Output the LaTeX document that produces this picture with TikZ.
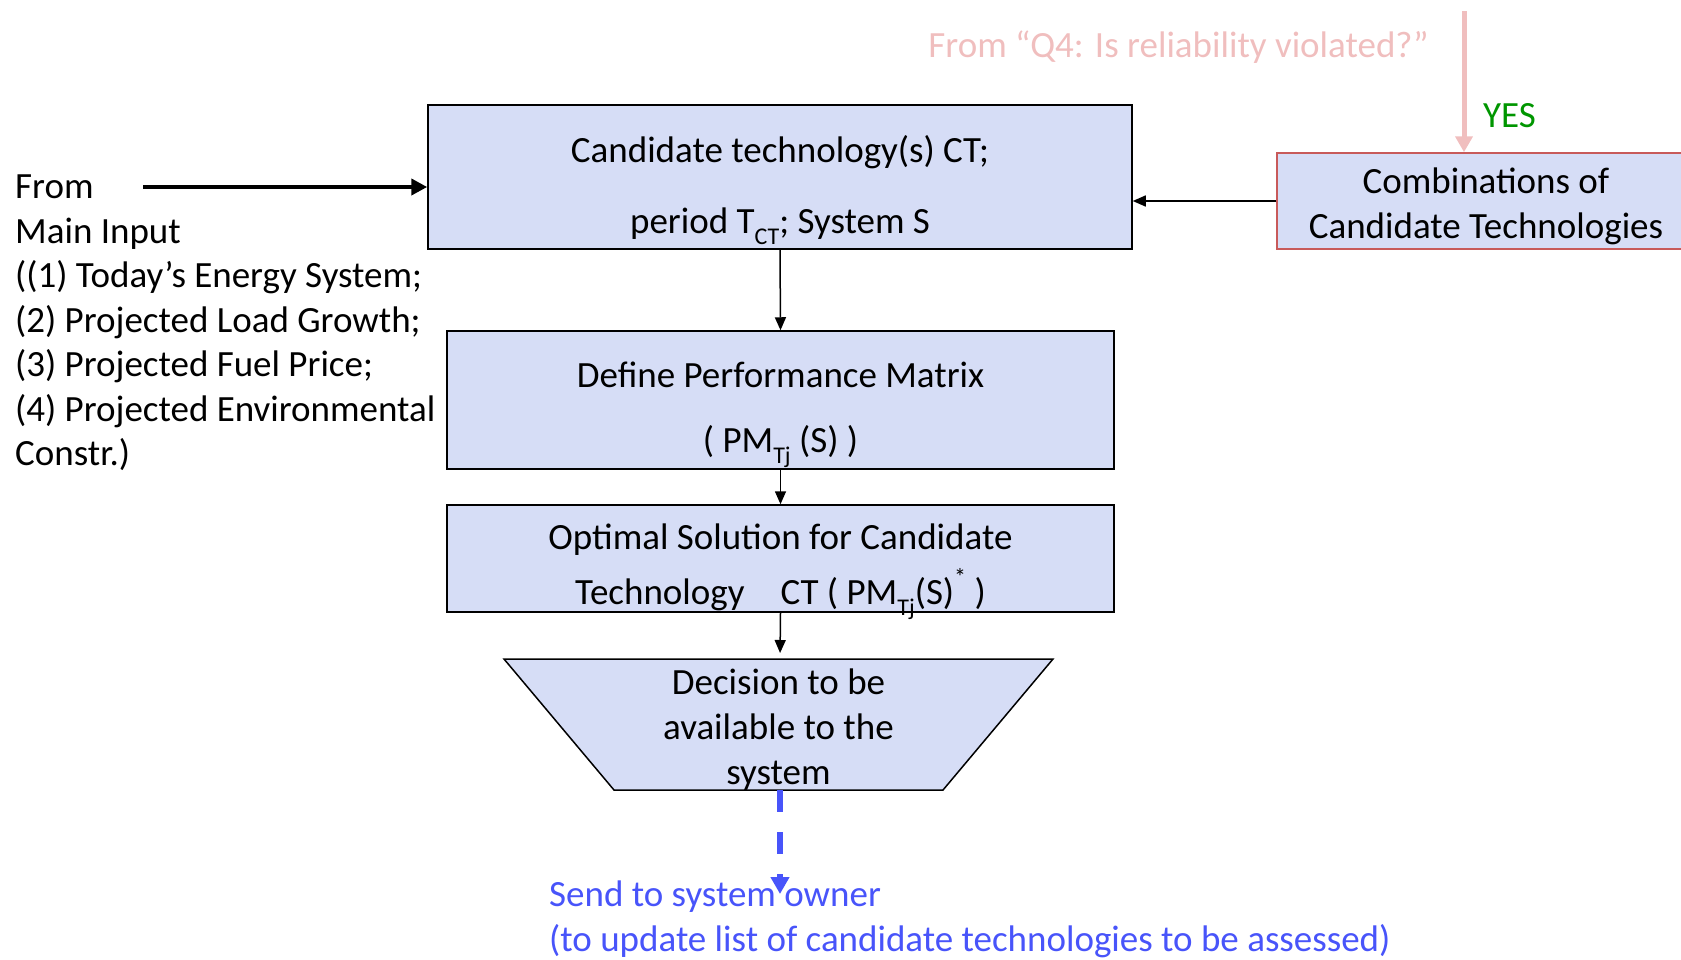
\documentclass[tikz,border=0pt]{standalone}
\usepackage{fontspec}
\setmainfont{Carlito}
\usetikzlibrary{arrows.meta}

\definecolor{boxfill}{RGB}{214,221,246}
\definecolor{combedge}{RGB}{200,90,90}
\definecolor{q4pink}{RGB}{240,190,190}
\definecolor{yesgreen}{RGB}{0,150,0}
\definecolor{ownerblue}{RGB}{72,84,250}

% small lowered / raised text for indices
\newcommand\lowsub[1]{\raisebox{-0.3em}{\fontsize{24}{24}\selectfont #1}}
\newcommand\highsup[1]{\raisebox{0.5em}{\fontsize{24}{24}\selectfont #1}}

\begin{document}
\begin{tikzpicture}[x=1pt,y=-1pt,
  every node/.style={font=\fontsize{37}{44.5}\selectfont, inner sep=0pt},
  stagebox/.style={draw=black, line width=1.5pt, fill=boxfill},
  stagetext/.style={align=center},
  flow/.style={line width=1.5pt, -{Triangle[length=13pt,width=11pt]}},
]
\useasboundingbox (0,0) rectangle (1681,959);

% main stages: box, then its text
\node[stagebox, minimum width=704pt, minimum height=144pt] (ct) at (780,177) {};
\node[stagetext, font=\fontsize{37}{71}\selectfont, yshift=-13pt] (ct-text) at (ct.center)
  {Candidate technology(s) CT;\\period T\lowsub{CT}; System S};

\node[stagebox, minimum width=667pt, minimum height=138pt] (pm) at (780.5,400) {};
\node[stagetext, font=\fontsize{37}{65}\selectfont, yshift=-15pt] (pm-text) at (pm.center)
  {Define Performance Matrix\\( PM\lowsub{Tj} (S) )};

\node[stagebox, minimum width=667pt, minimum height=107pt] (opt) at (780.5,558.5) {};
\node[stagetext, font=\fontsize{37}{55}\selectfont, yshift=-13pt] (opt-text) at (opt.center)
  {Optimal Solution for Candidate\\Technology\hspace{0.75em} CT ( PM\lowsub{Tj}(S)\highsup{*} )};

\node[stagebox, draw=combedge, minimum width=418pt, minimum height=96pt] (comb) at (1486,201) {};
\node[stagetext, font=\fontsize{37}{45}\selectfont, yshift=-5pt] (comb-text) at (comb.center)
  {Combinations of\\Candidate Technologies};

% decision trapezoid
\coordinate (dtl) at (504,659);
\coordinate (dtr) at (1053,659);
\coordinate (dbr) at (943,790);
\coordinate (dbl) at (614,790);
\coordinate (dtop) at (780,659);
\coordinate (dbot) at (780,790);
\draw[line width=1.5pt, fill=boxfill] (dtl) -- (dtr) -- (dbr) -- (dbl) -- cycle;
\node[stagetext, font=\fontsize{37}{45}\selectfont] (dec) at (778.5,730) {Decision to be\\available to the\\system};

% inputs
\node[anchor=north west, align=left] (maininput) at (15,175)
  {From\\Main Input\\((1) Today’s Energy System;\\(2) Projected Load Growth;\\(3) Projected Fuel Price;\\(4) Projected Environmental\\Constr.)};
\coordinate (inL) at (143,187);

\node[text=q4pink, anchor=base east] (q4text) at (1429,57) {From “Q4: Is reliability violated?”};
\coordinate (q4) at (1464,11);
\node[text=yesgreen, anchor=base west] (yes) at (1483,127) {YES};

% output
\node[text=ownerblue, anchor=north west, align=left, font=\fontsize{37}{45}\selectfont] (owner) at (549,881)
  {Send to system owner\\(to update list of candidate technologies to be assessed)};
\coordinate (ownertip) at (780,894);

% connectors
\draw[flow] (ct.south) -- (pm.north);
\draw[flow] (pm.south) -- (opt.north);
\draw[flow, shorten >=6pt] (opt.south) -- (dtop);
\draw[flow] (comb.west) -- (comb.west -| ct.east);
\draw[line width=4.5pt, -{Triangle[length=16pt,width=16pt]}] (inL) -- (inL -| ct.west);
\draw[q4pink, line width=5pt, -{Triangle[length=16pt,width=17pt]}] (q4) -- (q4 |- comb.north);
\draw[ownerblue, line width=5.5pt, dash pattern=on 22pt off 20pt,
      -{Triangle[length=17pt,width=18pt]}] (dbot) -- (ownertip);
\end{tikzpicture}
\end{document}
